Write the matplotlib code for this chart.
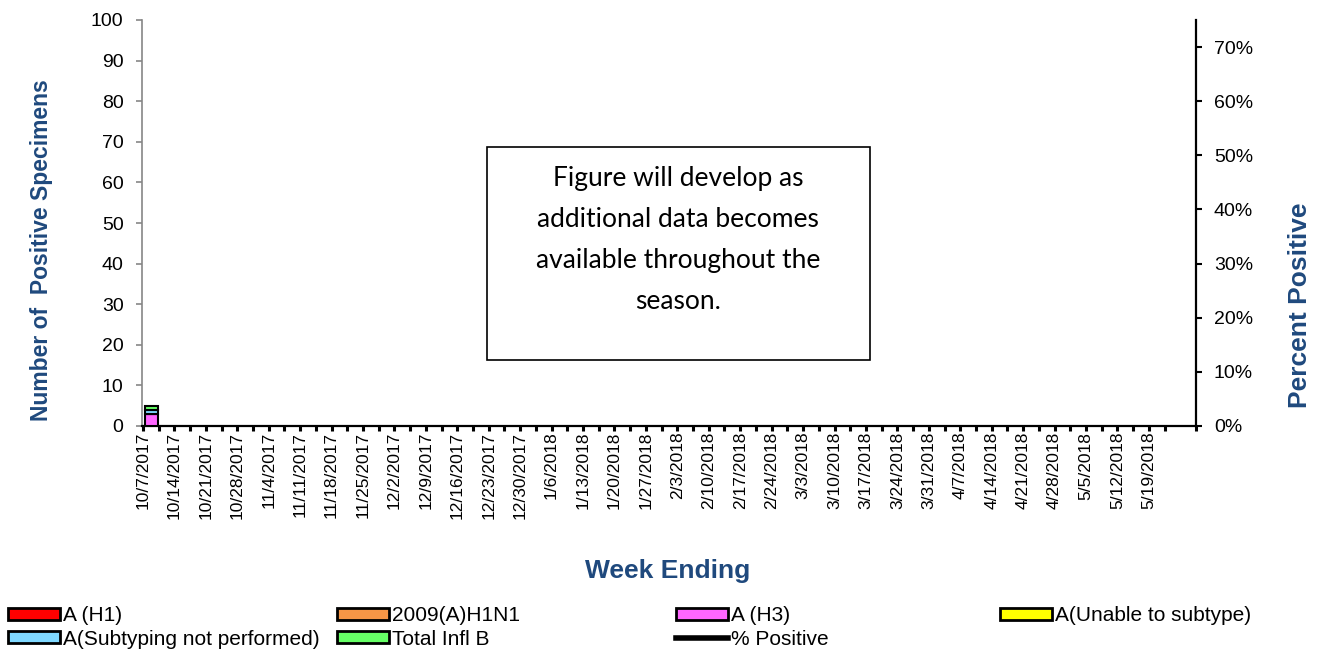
import matplotlib
matplotlib.use("Agg")
import matplotlib.pyplot as plt
from matplotlib.patches import Patch, Rectangle
from matplotlib.lines import Line2D
import numpy as np

# Week ending labels
weeks = ["10/7/2017", "10/14/2017", "10/21/2017", "10/28/2017", "11/4/2017",
         "11/11/2017", "11/18/2017", "11/25/2017", "12/2/2017", "12/9/2017",
         "12/16/2017", "12/23/2017", "12/30/2017", "1/6/2018", "1/13/2018",
         "1/20/2018", "1/27/2018", "2/3/2018", "2/10/2018", "2/17/2018",
         "2/24/2018", "3/3/2018", "3/10/2018", "3/17/2018", "3/24/2018",
         "3/31/2018", "4/7/2018", "4/14/2018", "4/21/2018", "4/28/2018",
         "5/5/2018", "5/12/2018", "5/19/2018"]

# Only the first week has data so far
a_h1 = [0]
h1n1_2009 = [0]
a_h3 = [3]
a_unable = [0]
a_not_performed = [1]
total_b = [1]
pct_positive = [0.05]

series = [
    ("A (H1)", a_h1, "#FF0000"),
    ("2009(A)H1N1", h1n1_2009, "#F79646"),
    ("A (H3)", a_h3, "#FF66FF"),
    ("A(Unable to subtype)", a_unable, "#FFFF00"),
    ("A(Subtyping not performed)", a_not_performed, "#7FD8FF"),
    ("Total Infl B", total_b, "#66FF66"),
]

blue = "#1F497D"
plt.rcParams["font.family"] = ["Liberation Sans", "DejaVu Sans"]

fig = plt.figure(figsize=(13.22, 6.52), dpi=100)
ax = fig.add_axes([142 / 1322, 1 - 426 / 652, (1196 - 142) / 1322, (426 - 20) / 652])

x = np.arange(len(a_h3)) + 0.27
bottom = np.zeros(len(a_h3))
for name, vals, col in series:
    vals = np.array(vals, dtype=float)
    ax.bar(x, vals, width=0.41, bottom=bottom, color=col, edgecolor="black",
           linewidth=1.5, zorder=3)
    bottom += vals

ax.set_xlim(-0.03, 33.07)
ax.set_ylim(0, 100)
ax.set_yticks(np.arange(0, 101, 10))
ax.set_xticks(np.arange(len(weeks)))
ax.set_xticklabels(weeks, rotation=90, fontsize=12.5)
ax.set_xticks(np.arange(len(weeks) + 1) + 0.5, minor=True)
ax.tick_params(axis="x", which="both", length=3.6, width=2.2, color="black", pad=0.5)
ax.tick_params(axis="y", labelsize=14, length=4.3, width=1.2, color="#868686", pad=9)

for s in ["top", "right"]:
    ax.spines[s].set_visible(False)
ax.spines["left"].set_color("#868686")
ax.spines["left"].set_linewidth(1.2)
ax.spines["bottom"].set_linewidth(1.6)

ax2 = ax.twinx()
ax2.plot(x, pct_positive, color="black", linewidth=3, zorder=4)
ax2.set_ylim(0, 0.75)
ax2.set_yticks(np.arange(0, 0.71, 0.1))
ax2.set_yticklabels([f"{int(round(v * 100))}%" for v in np.arange(0, 0.71, 0.1)])
ax2.tick_params(axis="y", labelsize=14, length=4.3, width=1.5, color="black", pad=8.5)
for s in ["top", "left", "bottom"]:
    ax2.spines[s].set_visible(False)
ax2.spines["right"].set_linewidth(1.6)

# Axis titles
fig.text(42 / 1322, 1 - 250 / 652, "Number of  Positive Specimens", rotation=90,
         ha="center", va="center", fontsize=16.5, fontweight="bold", color=blue)
fig.text(1300 / 1322, 1 - 305 / 652, "Percent Positive", rotation=90,
         ha="center", va="center", fontsize=19, fontweight="bold", color=blue)
fig.text(668 / 1322, 1 - 571 / 652, "Week Ending", ha="center", va="center",
         fontsize=19, fontweight="bold", color=blue)

# Note box
fig.patches.append(Rectangle((487 / 1322, 1 - 360 / 652), (870 - 487) / 1322,
                             (360 - 147) / 652, transform=fig.transFigure,
                             facecolor="white", edgecolor="black", linewidth=1.2,
                             zorder=5))
fig.text(678 / 1322, 1 - 240 / 652,
         "Figure will develop as\nadditional data becomes\navailable throughout the\nseason.",
         ha="center", va="center", fontsize=19, family="Lato", linespacing=1.8,
         zorder=6)

# Legend, four columns placed like the original
handles = {name: Patch(facecolor=col, edgecolor="black", linewidth=2)
           for name, _, col in series}
handles["% Positive"] = Line2D([], [], color="black", linewidth=4)
columns = [
    (8, ["A (H1)", "A(Subtyping not performed)"]),
    (337, ["2009(A)H1N1", "Total Infl B"]),
    (676, ["A (H3)", "% Positive"]),
    (1000, ["A(Unable to subtype)"]),
]
for xpix, names in columns:
    fig.legend([handles[n] for n in names], names, loc="upper left",
               bbox_to_anchor=(xpix / 1322, 1 - 606 / 652), frameon=False,
               fontsize=15, handlelength=2.5, handleheight=0.5, handletextpad=0.15,
               labelspacing=0.22, borderpad=0, borderaxespad=0)

fig.savefig("out.png", dpi=100)
